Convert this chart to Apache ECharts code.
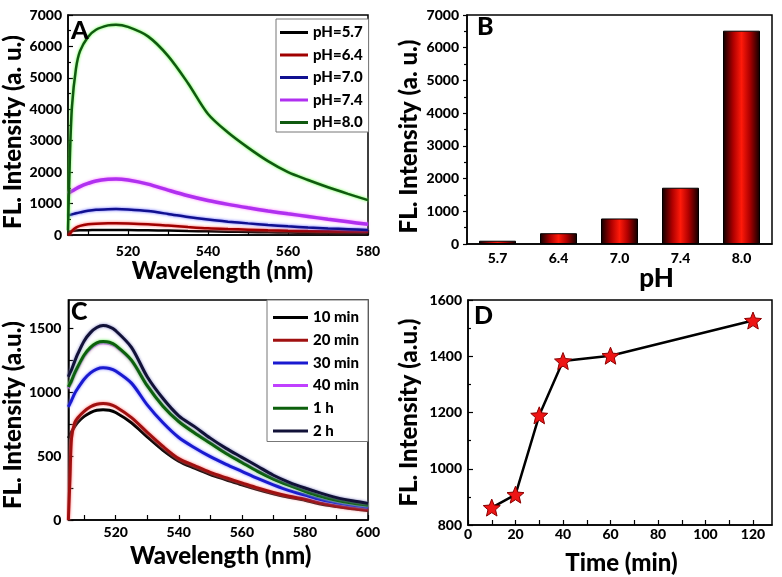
<!DOCTYPE html>
<html><head><meta charset="utf-8">
<script src="https://cdn.jsdelivr.net/npm/echarts@6/dist/echarts.min.js"></script>
<style>html,body{margin:0;padding:0;background:#fff}#c{width:782px;height:577px}</style>
</head><body><div id="c"></div>
<script>
// ---------- Panel A: emission spectra at different pH ----------
const wavelengthA = [505, 505.5, 506, 507, 508, 510, 512, 515, 517, 520, 525, 530, 535, 540, 545, 550, 555, 560, 565, 570, 575, 580];
const pH57 = [90, 110, 130, 145, 150, 155, 158, 160, 160, 158, 150, 140, 128, 118, 105, 95, 85, 78, 72, 66, 60, 55];
const pH64 = [0, 40, 130, 235, 290, 340, 360, 372, 372, 365, 340, 300, 255, 215, 190, 170, 150, 135, 125, 118, 112, 106];
const pH70 = [620, 640, 655, 690, 720, 770, 800, 820, 825, 810, 760, 670, 570, 490, 425, 370, 320, 275, 240, 210, 185, 160];
const pH74 = [1320, 1360, 1400, 1470, 1540, 1640, 1720, 1775, 1785, 1750, 1620, 1430, 1250, 1100, 975, 865, 765, 675, 590, 500, 420, 340];
const pH80 = [150, 2600, 4100, 5300, 5850, 6300, 6530, 6670, 6690, 6620, 6320, 5700, 4830, 3850, 3260, 2780, 2350, 2000, 1750, 1520, 1310, 1110];
const namesA = ['pH=5.7', 'pH=6.4', 'pH=7.0', 'pH=7.4', 'pH=8.0'];
const xTicksA = [510, 520, 530, 540, 550, 560, 570, 580];
const xLabelsA = [520, 540, 560, 580];

// ---------- Panel B: peak intensity vs pH ----------
const phCategories = ['5.7', '6.4', '7.0', '7.4', '8.0'];
const phPeak = [100, 330, 780, 1720, 6520];

// ---------- Panel C: emission spectra over time ----------
const wavelengthC = [505, 505.5, 506, 507, 508, 510, 512, 514, 516, 518, 520, 525, 530, 535, 540, 545, 550, 555, 560, 565, 570, 575, 580, 585, 590, 595, 600];
const t10min = [640, 665, 690, 730, 765, 810, 840, 858, 862, 858, 840, 760, 650, 545, 460, 405, 355, 315, 275, 238, 205, 178, 155, 125, 105, 88, 75];
const t20min = [0, 320, 640, 760, 800, 850, 885, 905, 910, 905, 885, 800, 685, 575, 480, 425, 372, 330, 290, 250, 215, 185, 162, 132, 110, 92, 78];
const t30min = [885, 910, 935, 990, 1030, 1100, 1150, 1180, 1190, 1185, 1165, 1070, 900, 760, 645, 565, 495, 435, 380, 325, 275, 230, 195, 160, 135, 115, 100];
const t40min = [1030, 1055, 1080, 1140, 1190, 1280, 1340, 1375, 1385, 1380, 1358, 1245, 1048, 890, 770, 682, 602, 522, 452, 383, 322, 272, 228, 188, 157, 134, 117];
const t1h = [1040, 1065, 1090, 1150, 1200, 1290, 1350, 1385, 1395, 1390, 1365, 1250, 1050, 890, 770, 680, 600, 520, 450, 380, 320, 270, 225, 185, 155, 132, 115];
const t2h = [1120, 1150, 1175, 1240, 1300, 1400, 1465, 1505, 1520, 1510, 1480, 1350, 1120, 950, 815, 730, 640, 560, 490, 420, 350, 295, 250, 210, 175, 150, 130];
const namesC = ['10 min', '20 min', '30 min', '40 min', '1 h', '2 h'];
const xTicksC = [510, 520, 530, 540, 550, 560, 570, 580, 590, 600];
const xLabelsC = [520, 540, 560, 580, 600];
const yTicksC = [0, 250, 500, 750, 1000, 1250, 1500];
const yLabelsC = [0, 500, 1000, 1500];

// ---------- Panel D: intensity vs time ----------
const timeMin = [10, 20, 30, 40, 60, 120];
const timeIntensity = [862, 908, 1190, 1383, 1402, 1527];
const xTicksD = [0, 10, 20, 30, 40, 50, 60, 70, 80, 90, 100, 110, 120];
const xLabelsD = [0, 20, 40, 60, 80, 100, 120];

const FONT = 'Lato';
const W = 900;
const pairs = (xs, ys) => xs.map((x, i) => [x, ys[i]]);
const plain = (v) => String(v);

const axisLine = { show: true, lineStyle: { color: '#000', width: 1.5 } };
const tickStyle = { color: '#000', width: 1.2 };
const lbl = (extra) => Object.assign({ color: '#000', fontFamily: FONT, fontWeight: W, fontSize: 14, formatter: plain }, extra);
const nameStyle = (extra) => Object.assign({ color: '#000', fontFamily: FONT, fontWeight: W, fontSize: 24 }, extra);

function lineSeries(name, xi, xs, ys, color, width, halo) {
  return {
    type: 'line', name: name, xAxisIndex: xi, yAxisIndex: xi,
    data: pairs(xs, ys), symbol: 'none', showSymbol: false, smooth: 0.3,
    lineStyle: { color: color, width: width, shadowColor: halo || 'rgba(0,0,0,0)', shadowBlur: halo ? 3 : 0 },
    itemStyle: { color: color },
    z: 3
  };
}

const star = 'path://M12,0.5 L15.2,8.4 L23.6,9.1 L17.2,14.6 L19.2,22.9 L12,18.4 L4.8,22.9 L6.8,14.6 L0.4,9.1 L8.8,8.4 Z';
const legendText = { fontSize: 15, fontWeight: W, fontFamily: FONT, color: '#000' };
const letterStyle = { fontSize: 25, fontWeight: W, fontFamily: FONT, color: '#000' };

const option = {
  animation: false,
  backgroundColor: '#fff',
  textStyle: { fontFamily: FONT, fontWeight: W, color: '#000' },
  title: [
    { text: 'A', left: 71, top: 18, padding: 0, textStyle: letterStyle },
    { text: 'B', left: 477, top: 14, padding: 0, textStyle: letterStyle },
    { text: 'C', left: 71, top: 299, padding: 0, textStyle: letterStyle },
    { text: 'D', left: 474, top: 303, padding: 0, textStyle: letterStyle }
  ],
  grid: [
    { left: 68, top: 15, width: 300, height: 220, show: true, borderColor: '#000', borderWidth: 1.5, backgroundColor: 'transparent' },
    { left: 467, top: 15, width: 305, height: 229, show: true, borderColor: '#000', borderWidth: 1.5, backgroundColor: 'transparent' },
    { left: 67, top: 300, width: 301, height: 220, show: true, borderColor: '#000', borderWidth: 1.5, backgroundColor: 'transparent' },
    { left: 468, top: 300, width: 304, height: 225, show: true, borderColor: '#000', borderWidth: 1.5, backgroundColor: 'transparent' }
  ],
  legend: [
    {
      data: namesA, orient: 'vertical', left: 276, top: 19, icon: 'rect', itemWidth: 28, itemHeight: 3, itemGap: 7.5,
      padding: [6, 6, 2, 4], borderColor: '#777', borderWidth: 1, backgroundColor: '#fff',
      textStyle: legendText, selectedMode: false
    },
    {
      data: namesC, orient: 'vertical', left: 267, top: 300, icon: 'rect', itemWidth: 35, itemHeight: 3, itemGap: 7.7,
      padding: [10, 9, 3, 6], borderColor: '#777', borderWidth: 1, backgroundColor: '#fff',
      textStyle: legendText, selectedMode: false
    }
  ],
  xAxis: [
    {
      type: 'value', gridIndex: 0, min: 505, max: 580,
      axisLine: axisLine,
      axisTick: { show: true, inside: true, length: 5, lineStyle: tickStyle, customValues: xTicksA },
      axisLabel: lbl({ margin: 9, customValues: xLabelsA }),
      splitLine: { show: false },
      name: 'Wavelength (nm)', nameLocation: 'middle', nameGap: 24,
      nameTextStyle: nameStyle({ padding: [0, 0, 0, 9] })
    },
    {
      type: 'category', gridIndex: 1, data: phCategories,
      axisLine: axisLine,
      axisTick: { show: false },
      axisLabel: lbl({ margin: 7 }),
      splitLine: { show: false },
      name: 'pH', nameLocation: 'middle', nameGap: 14,
      nameTextStyle: nameStyle({ fontSize: 26, padding: [0, 0, 0, 74] })
    },
    {
      type: 'value', gridIndex: 2, min: 505, max: 600,
      axisLine: axisLine,
      axisTick: { show: true, inside: true, length: 5, lineStyle: tickStyle, customValues: xTicksC },
      axisLabel: lbl({ margin: 5, customValues: xLabelsC }),
      splitLine: { show: false },
      name: 'Wavelength (nm)', nameLocation: 'middle', nameGap: 24,
      nameTextStyle: nameStyle({ padding: [0, 0, 0, 5] })
    },
    {
      type: 'value', gridIndex: 3, min: 0, max: 128,
      axisLine: axisLine,
      axisTick: { show: true, inside: true, length: 5, lineStyle: tickStyle, customValues: xTicksD },
      axisLabel: lbl({ margin: 2, customValues: xLabelsD }),
      splitLine: { show: false },
      name: 'Time (min)', nameLocation: 'middle', nameGap: 26,
      nameTextStyle: nameStyle({ padding: [0, 0, 0, 3] })
    }
  ],
  yAxis: [
    {
      type: 'value', gridIndex: 0, min: 0, max: 7000, interval: 1000,
      axisLine: axisLine,
      axisTick: { show: true, inside: true, length: 5, lineStyle: tickStyle },
      minorTick: { show: true, splitNumber: 2, length: 3, lineStyle: tickStyle },
      axisLabel: lbl({ margin: 6 }),
      splitLine: { show: false },
      name: 'FL. Intensity (a. u.)', nameLocation: 'middle', nameGap: 39,
      nameTextStyle: nameStyle({ padding: [0, 14, 0, 0] })
    },
    {
      type: 'value', gridIndex: 1, min: 0, max: 7000, interval: 1000,
      axisLine: axisLine,
      axisTick: { show: true, inside: false, length: 4, lineStyle: tickStyle },
      minorTick: { show: true, splitNumber: 2, length: 3, lineStyle: tickStyle },
      axisLabel: lbl({ margin: 8 }),
      splitLine: { show: false },
      name: 'FL. Intensity (a. u.)', nameLocation: 'middle', nameGap: 46,
      nameTextStyle: nameStyle({ padding: [0, 14, 0, 0] })
    },
    {
      type: 'value', gridIndex: 2, min: 0, max: 1720,
      axisLine: axisLine,
      axisTick: { show: true, inside: true, length: 5, lineStyle: tickStyle, customValues: yTicksC },
      axisLabel: lbl({ margin: 7, customValues: yLabelsC }),
      splitLine: { show: false },
      name: 'FL. Intensity (a.u.)', nameLocation: 'middle', nameGap: 38,
      nameTextStyle: nameStyle({ padding: [0, 10, 0, 0] })
    },
    {
      type: 'value', gridIndex: 3, min: 800, max: 1600, interval: 200,
      axisLine: axisLine,
      axisTick: { show: true, inside: true, length: 5, lineStyle: tickStyle },
      minorTick: { show: true, splitNumber: 2, length: 3, lineStyle: tickStyle },
      axisLabel: lbl({ margin: 6 }),
      splitLine: { show: false },
      name: 'FL. Intensity (a.u.)', nameLocation: 'middle', nameGap: 47,
      nameTextStyle: nameStyle({ padding: [0, 0, 0, 0] })
    }
  ],
  series: [
    lineSeries(namesA[0], 0, wavelengthA, pH57, '#000000', 2.5, null),
    lineSeries(namesA[1], 0, wavelengthA, pH64, '#a00000', 2.5, '#ff6060'),
    lineSeries(namesA[2], 0, wavelengthA, pH70, '#101090', 2.5, '#6060ff'),
    lineSeries(namesA[3], 0, wavelengthA, pH74, '#b030f0', 3.5, '#ff80ff'),
    lineSeries(namesA[4], 0, wavelengthA, pH80, '#105a10', 2.5, '#60ff40'),
    {
      type: 'bar', name: 'peak', xAxisIndex: 1, yAxisIndex: 1, data: phPeak, barWidth: 37,
      itemStyle: {
        borderColor: '#000', borderWidth: 1,
        color: { type: 'linear', x: 0, y: 0, x2: 1, y2: 0, colorStops: [
          { offset: 0, color: '#0a0000' }, { offset: 0.28, color: '#b00000' },
          { offset: 0.5, color: '#ff1a0a' }, { offset: 0.72, color: '#b00000' },
          { offset: 1, color: '#0a0000' } ] }
      }
    },
    lineSeries(namesC[0], 2, wavelengthC, t10min, '#000000', 3, null),
    lineSeries(namesC[1], 2, wavelengthC, t20min, '#a01010', 3, '#ff7070'),
    lineSeries(namesC[2], 2, wavelengthC, t30min, '#1a1ad0', 3, '#8080ff'),
    lineSeries(namesC[3], 2, wavelengthC, t40min, '#c040ff', 3, '#ff90ff'),
    lineSeries(namesC[4], 2, wavelengthC, t1h, '#0c600c', 3, '#60ff50'),
    lineSeries(namesC[5], 2, wavelengthC, t2h, '#121238', 3, '#8080c0'),
    {
      type: 'line', name: 'time', xAxisIndex: 3, yAxisIndex: 3, data: pairs(timeMin, timeIntensity),
      lineStyle: { color: '#000', width: 2.5 },
      symbol: star, symbolSize: 17,
      itemStyle: { color: '#ee1515', borderColor: '#8a0000', borderWidth: 1 },
      z: 4
    }
  ]
};

const chart = echarts.init(document.getElementById('c'), null, { renderer: 'canvas' });
chart.setOption(option);
</script>
</body></html>
